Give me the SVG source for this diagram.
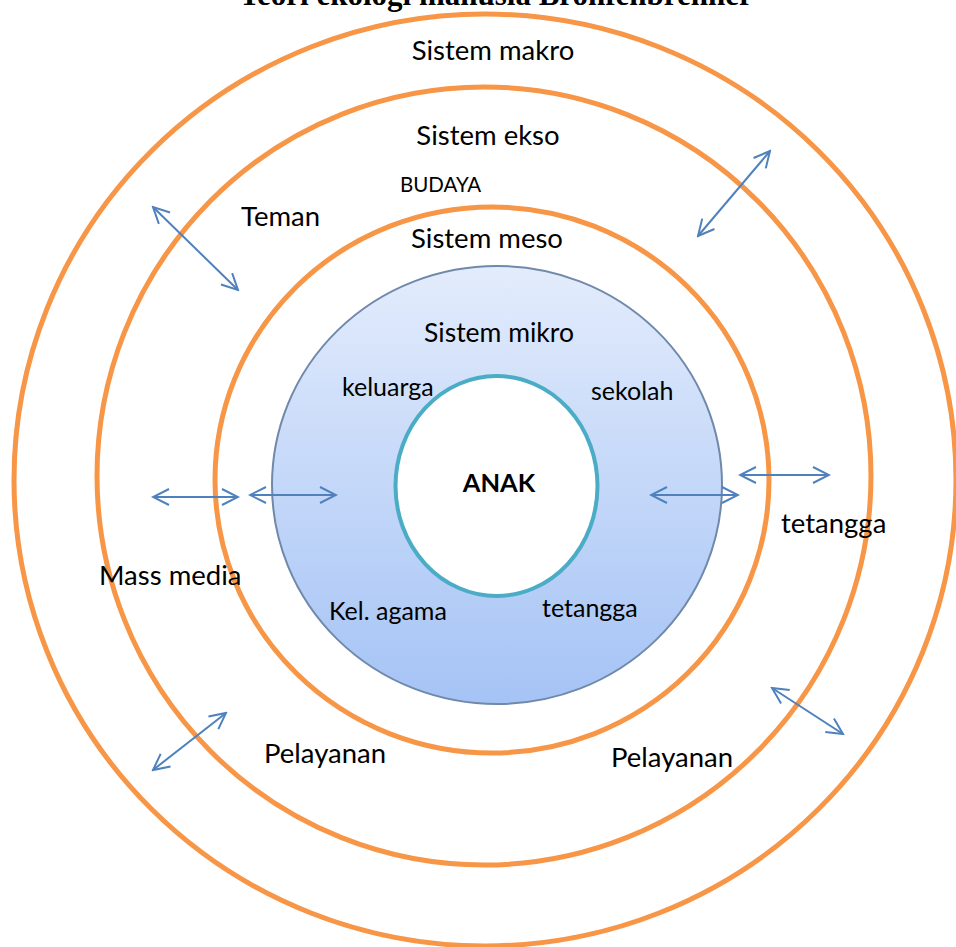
<svg xmlns="http://www.w3.org/2000/svg" width="956" height="947" viewBox="0 0 956 947">
<style>
.ring{fill:none;stroke:#F79646;stroke-width:5}
.t{font-family:Lato,"Open Sans","Liberation Sans",sans-serif;fill:#000}
.big{font-size:27.5px}
.mid{font-size:25px}
.sm{font-size:20.5px}
.arr{stroke:#4F81BD;stroke-width:2;fill:none;marker-start:url(#ah);marker-end:url(#ah)}
</style>
<defs>
<linearGradient id="g" x1="0" y1="0" x2="0" y2="1">
<stop offset="0" stop-color="#E3ECFC"/>
<stop offset="1" stop-color="#A5C3F5"/>
</linearGradient>
<marker id="ah" viewBox="0 0 20 20" refX="18" refY="10" markerWidth="20" markerHeight="20" markerUnits="userSpaceOnUse" orient="auto-start-reverse">
<polyline points="2,2 18,10 2,18" fill="none" stroke="#4F81BD" stroke-width="2"/>
</marker>
</defs>
<rect width="956" height="947" fill="#fff"/>
<text x="496" y="5" text-anchor="middle" font-family="Liberation Serif,serif" font-weight="bold" font-size="31">Teori ekologi manusia Bronfenbrenner</text>
<g id="makro"><ellipse class="ring" cx="485" cy="480" rx="471" ry="466"/></g>
<g id="ekso"><ellipse class="ring" cx="484" cy="476" rx="387" ry="389"/></g>
<g id="meso"><ellipse class="ring" cx="492" cy="480" rx="277" ry="273"/></g>
<g id="mikro"><ellipse cx="497" cy="485" rx="225" ry="219" fill="url(#g)" stroke="#7089AA" stroke-width="2"/></g>
<g id="anak"><ellipse cx="496.5" cy="486" rx="101" ry="110" fill="#fff" stroke="#4BACC6" stroke-width="4"/>
<text class="t" x="499" y="492" text-anchor="middle" font-weight="bold" font-size="25.5">ANAK</text></g>
<g id="labels">
<text class="t big" x="493" y="60" text-anchor="middle">Sistem makro</text>
<text class="t big" x="488" y="145" text-anchor="middle">Sistem ekso</text>
<text class="t sm" x="400" y="192">BUDAYA</text>
<text class="t big" x="241" y="226">Teman</text>
<text class="t big" x="487" y="248" text-anchor="middle">Sistem meso</text>
<text class="t" x="499" y="342" text-anchor="middle" font-size="26.5">Sistem mikro</text>
<text class="t mid" x="342" y="396">keluarga</text>
<text class="t mid" x="591" y="400">sekolah</text>
<text class="t big" x="781" y="533">tetangga</text>
<text class="t big" x="99" y="585">Mass media</text>
<text class="t mid" x="329" y="620">Kel. agama</text>
<text class="t mid" x="542" y="617">tetangga</text>
<text class="t big" x="264" y="763">Pelayanan</text>
<text class="t big" x="611" y="767">Pelayanan</text>
</g>
<g id="connectors">
<line class="arr" x1="153" y1="207" x2="238" y2="290"/>
<line class="arr" x1="770" y1="151" x2="698" y2="236"/>
<line class="arr" x1="153" y1="497" x2="238" y2="497"/>
<line class="arr" x1="250" y1="495" x2="336" y2="495"/>
<line class="arr" x1="651" y1="495" x2="738" y2="495"/>
<line class="arr" x1="740" y1="475" x2="829" y2="475"/>
<line class="arr" x1="153" y1="770" x2="226" y2="713"/>
<line class="arr" x1="772" y1="688" x2="843" y2="734"/>
</g>
</svg>
